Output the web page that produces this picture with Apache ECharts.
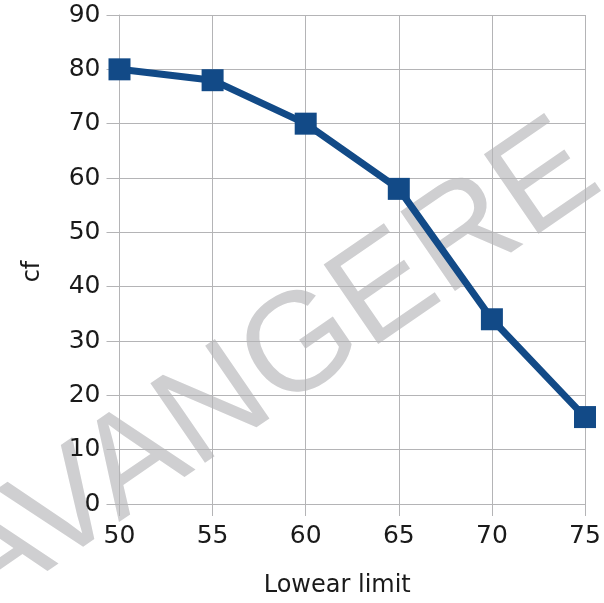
<!DOCTYPE html>
<html>
<head>
<meta charset="utf-8">
<script src="https://cdn.jsdelivr.net/npm/echarts@6/dist/echarts.min.js"></script>
<style>html,body{margin:0;padding:0;background:#fff}#c{width:604px;height:603px}</style>
</head>
<body>
<div id="c"></div>
<script>
const xValues = [50, 55, 60, 65, 70, 75];
const cfValues = [80, 78, 70, 58, 34, 16];
const xAxisTitle = 'Lowear limit';
const yAxisTitle = 'cf';
const watermarkText = 'AVANGERE';

const chart = echarts.init(document.getElementById('c'), null, {renderer: 'canvas'});
const gridColor = '#b4b4b6';
const font = 'DejaVu Sans';
chart.setOption({
  animation: false,
  grid: {left: 119.5, right: 19, top: 15, bottom: 99},
  graphic: [{
    type: 'text',
    x: 272, y: 370,
    rotation: 34.5 * Math.PI / 180,
    z: -10,
    style: {
      text: watermarkText,
      font: 'normal 140px "Liberation Sans"',
      fill: '#cfcfd1',
      textAlign: 'center',
      textVerticalAlign: 'middle'
    }
  }],
  xAxis: {
    type: 'value', min: 50, max: 75, interval: 5,
    name: xAxisTitle, nameLocation: 'middle', nameGap: 70,
    nameTextStyle: {fontFamily: font, fontSize: 24, color: '#1a1a1a', padding: [0, 30, 0, 0]},
    axisLine: {show: true, lineStyle: {color: gridColor, width: 1}},
    axisTick: {show: true, length: 12, lineStyle: {color: gridColor}},
    splitLine: {show: true, lineStyle: {color: gridColor, width: 1}},
    axisLabel: {fontFamily: font, fontSize: 25, color: '#1a1a1a', margin: 20}
  },
  yAxis: {
    type: 'value', min: 0, max: 90, interval: 10,
    name: yAxisTitle, nameLocation: 'middle', nameGap: 75,
    nameTextStyle: {fontFamily: font, fontSize: 24, color: '#1a1a1a', padding: [0, 24, 0, 0]},
    axisLine: {show: true, lineStyle: {color: gridColor, width: 1}},
    axisTick: {show: true, length: 13, lineStyle: {color: gridColor}},
    splitLine: {show: true, lineStyle: {color: gridColor, width: 1}},
    axisLabel: {fontFamily: font, fontSize: 25, color: '#1a1a1a', margin: 19}
  },
  series: [{
    type: 'line',
    data: xValues.map((x, i) => [x, cfValues[i]]),
    symbol: 'rect', symbolSize: 22,
    lineStyle: {color: '#124a87', width: 7},
    itemStyle: {color: '#124a87'},
    z: 3
  }]
});
</script>
</body>
</html>
